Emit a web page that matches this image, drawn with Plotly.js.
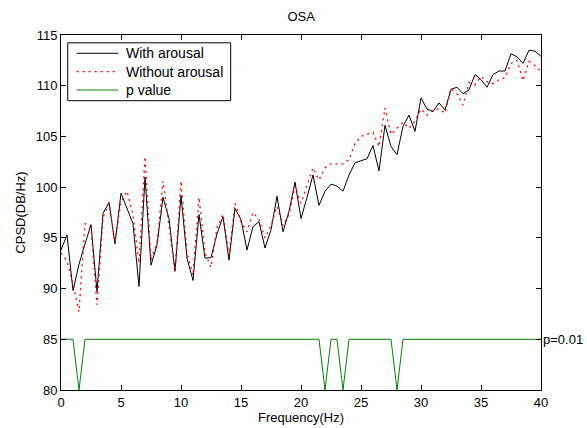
<!DOCTYPE html>
<html>
<head>
<meta charset="utf-8">
<script src="https://cdn.plot.ly/plotly-3.0.1.min.js"></script>
<style>html,body{margin:0;padding:0;background:#fff;}#chart{width:587px;height:428px;}</style>
</head>
<body>
<div id="chart"></div>
<script>
// Frequency bins (Hz), 0.5 Hz spacing
const freq = [];
for (let i = 0; i <= 80; i++) freq.push(i * 0.5);

const withArousal = [
  93.8, 95.3, 89.8, 92.4, 94.4, 96.3, 89.7, 97.4, 98.5, 94.4,
  99.4, 97.9, 96.4, 90.2, 101.0, 92.3, 94.3, 99.0, 96.9, 91.7,
  99.2, 93.0, 90.8, 97.3, 93.0, 93.05, 95.4, 97.1, 92.8, 97.9,
  96.8, 93.8, 96.1, 96.6, 94.0, 95.8, 99.1, 95.6, 97.6, 100.5,
  96.9, 99.0, 101.2, 98.2, 99.6, 100.3, 100.1, 99.6, 101.2, 102.4,
  102.6, 102.8, 104.1, 101.6, 106.1, 104.0, 103.2, 106.0, 107.1, 105.5,
  108.8, 107.7, 107.45, 108.3, 107.6, 109.65, 109.85, 109.2, 109.6, 111.1,
  110.6, 109.85, 111.1, 111.45, 111.45, 113.15, 112.85, 112.2, 113.5, 113.4,
  112.9
];

const withoutArousal = [
  93.5, 92.7, 90.5, 87.7, 96.4, 96.0, 88.4, 97.0, 98.4, 94.6,
  98.6, 99.6, 97.3, 92.5, 103.0, 92.8, 94.5, 100.6, 96.2, 91.7,
  100.6, 93.5, 91.3, 99.0, 93.5, 92.1, 96.0, 97.3, 93.3, 98.4,
  96.6, 95.6, 97.5, 96.8, 95.0, 96.2, 98.1, 96.2, 97.3, 100.1,
  98.4, 100.2, 101.9, 100.7, 101.9, 102.3, 102.3, 102.3, 102.7, 104.3,
  105.0, 105.2, 105.4, 104.0, 107.8, 105.2, 105.8, 106.4, 105.8, 106.5,
  107.7, 107.1, 107.6, 107.7, 107.3, 109.7, 109.2, 108.1, 110.3, 110.1,
  110.9, 110.4, 110.2, 110.6, 110.8, 112.2, 112.5, 110.5, 112.4, 112.0,
  111.4
];

// p value indicator: 85 = not significant, 80 = significant (p<0.01)
const sigFreqs = [1.5, 22.0, 23.5, 28.0];
const pValue = freq.map(f => sigFreqs.indexOf(f) >= 0 ? 80 : 85);

const xTicks = [0, 5, 10, 15, 20, 25, 30, 35, 40];
const yTicks = [80, 85, 90, 95, 100, 105, 110, 115];

const seriesNames = ['With arousal', 'Without arousal', 'p value'];
const seriesColors = ['#000000', '#ff0000', '#008000'];
const seriesWidths = [1, 1.3, 1];
const seriesDash = ['solid', '2px,4px', 'solid'];

const font = {family: 'Liberation Sans, Arial, Helvetica, sans-serif', size: 13, color: '#000'};

const seriesY = [withArousal, withoutArousal, pValue];
const traces = seriesY.map((ys, i) => ({
  x: freq, y: ys, type: 'scatter', mode: 'lines', name: seriesNames[i],
  line: {color: seriesColors[i], width: seriesWidths[i], dash: seriesDash[i]},
  showlegend: false
}));

// Legend box (MATLAB style) drawn with shapes and annotations
const legX0 = 0.014, legX1 = 0.3535, legY0 = 0.815, legY1 = 0.978;
const legRows = [0.9485, 0.8966, 0.845];
const legLineX0 = 0.0327, legLineX1 = 0.1194, legTextX = 0.1319;

const shapes = [{
  type: 'rect', xref: 'paper', yref: 'paper', x0: legX0, x1: legX1, y0: legY0, y1: legY1,
  line: {color: '#000', width: 1}, fillcolor: '#fff', layer: 'above'
}];
const annotations = [];
seriesNames.forEach((n, i) => {
  shapes.push({
    type: 'line', xref: 'paper', yref: 'paper', x0: legLineX0, x1: legLineX1,
    y0: legRows[i], y1: legRows[i], layer: 'above',
    line: {color: seriesColors[i], width: seriesWidths[i], dash: seriesDash[i]}
  });
  annotations.push({
    text: n, xref: 'paper', yref: 'paper', x: legTextX, y: legRows[i],
    xanchor: 'left', yanchor: 'middle', showarrow: false,
    font: {family: font.family, size: 14, color: '#000'}
  });
});
annotations.push({
  text: 'p=0.01', xref: 'paper', yref: 'y', x: 1, y: 85,
  xanchor: 'left', yanchor: 'middle', showarrow: false, xshift: 0,
  font: font
});

const axisCommon = {
  showline: true, linecolor: '#000', linewidth: 1, mirror: 'ticks',
  ticks: 'inside', ticklen: 5, tickcolor: '#000', tickwidth: 1,
  showgrid: false, zeroline: false, tickfont: font
};

const layout = {
  width: 587, height: 428,
  margin: {l: 61, r: 46, t: 35, b: 38, pad: 0},
  paper_bgcolor: '#fff', plot_bgcolor: '#fff',
  font: font,
  title: {text: 'OSA', font: {family: font.family, size: 13, color: '#000'}, x: 0.513, xanchor: 'center', y: 0.962, yanchor: 'middle'},
  xaxis: Object.assign({}, axisCommon, {
    range: [0, 40], tickvals: xTicks, ticktext: xTicks.map(String),
    title: {text: 'Frequency(Hz)', font: font, standoff: 0}
  }),
  yaxis: Object.assign({}, axisCommon, {
    range: [80, 115], tickvals: yTicks, ticktext: yTicks.map(String),
    title: {text: 'CPSD(DB/Hz)', font: font, standoff: 7}
  }),
  showlegend: false,
  shapes: shapes,
  annotations: annotations
};

Plotly.newPlot('chart', traces, layout, {displayModeBar: false, staticPlot: true});
</script>
</body>
</html>
